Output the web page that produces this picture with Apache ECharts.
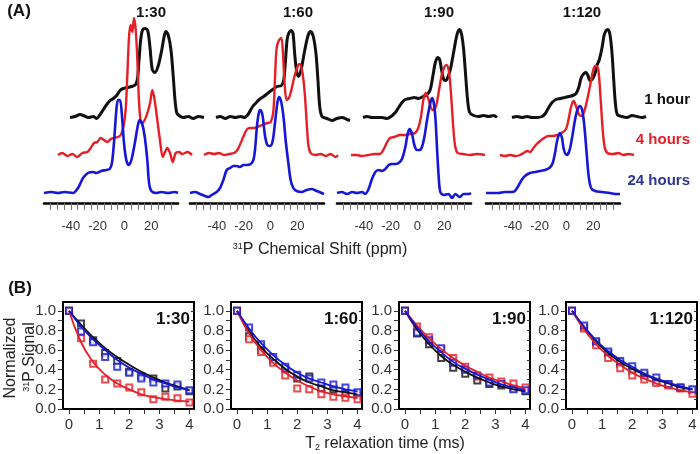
<!DOCTYPE html>
<html>
<head>
<meta charset="utf-8">
<script src="https://cdn.jsdelivr.net/npm/echarts@6.0.0/dist/echarts.min.js"></script>
<style>html,body{margin:0;padding:0;background:#fff}#c{width:700px;height:454px}</style>
</head>
<body>
<div id="c"></div>
<script>
// ---------- Panel A: 31P spectra (ppm, intensity a.u.) ----------
const ratios = ['1:30', '1:60', '1:90', '1:120'];
const timeLabels = ['1 hour', '4 hours', '24 hours'];
const ppmLabelValues = [-40, -20, 0, 20];

const spec130_1h = [[-60,0],[-56.3,1],[-52.5,3],[-50,2],[-46.3,0],[-42.6,1],[-40.1,-1],[-37.6,3],[-35.1,8],[-32.6,13],[-30.1,17],[-27.7,19],[-25.2,22],[-22.7,27],[-20.2,29],[-17,30],[-14,31],[-11,33],[-9.5,40],[-8.5,57],[-7.3,77],[-6,87],[-4,89],[-2,87],[-0.3,70],[1.4,48],[3.4,45],[5.9,52],[8.4,67],[10.4,82],[11.6,86],[13.4,82],[15.4,67],[17.1,40],[18.4,17],[19.6,5],[21.3,2],[24.6,0],[28.3,1],[32,-1],[35.8,1],[40,0]];
const spec130_4h = [[-60,0],[-56.8,2],[-53,-1],[-49.3,1],[-45.6,-2],[-41.8,2],[-38.1,3],[-35.6,7],[-33.1,12],[-30.6,13],[-28.2,17],[-25.7,15],[-23.2,13],[-20.7,16],[-18.2,17],[-15.2,18],[-13.2,20],[-11.2,28],[-9.5,45],[-8.3,78],[-7,118],[-5.8,130],[-4.5,123],[-3.3,137],[-2,125],[-0.8,95],[0.4,55],[1.7,33],[2.9,32],[4.7,35],[6.7,42],[8.7,52],[10.4,65],[12.1,55],[14.1,35],[16.1,15],[18.1,-2],[19.6,2],[21.6,7],[23.6,2],[25.6,-7],[27.8,2],[30.3,3],[32.8,1],[36.5,3],[40,0]];
const spec130_24h = [[-60,0],[-54.5,1],[-49.6,0],[-44.6,1],[-38.4,0],[-34.6,5],[-30.9,15],[-27.2,20],[-23.4,21],[-20.9,20],[-17.2,22],[-13.5,23],[-11,24],[-9.3,30],[-7.8,50],[-6,83],[-4.8,93],[-3.3,93],[-1.8,77],[-0.3,50],[1.4,33],[3.2,28],[5.2,33],[7.8,50],[10.1,68],[11.4,73],[13.1,70],[15.1,57],[17.1,33],[18.4,10],[20.1,2],[23.8,0],[27.6,1],[32.5,0],[37.5,1],[40,0]];

const spec160_1h = [[-60,0],[-56.8,1],[-53,-1],[-49.3,1],[-45.6,0],[-41.8,1],[-38.6,0],[-35.6,4],[-33.1,10],[-30.6,14],[-27.7,18],[-24.4,21],[-20.7,25],[-17.7,28],[-14.5,31],[-11.2,32],[-9.5,37],[-8.3,54],[-7,77],[-5.8,84],[-3.8,87],[-2.5,84],[-1.3,64],[0.2,46],[1.7,41],[3.7,49],[6.2,67],[8.7,82],[10.6,86],[12.6,81],[14.6,64],[16.1,37],[17.4,11],[19.1,1],[22.8,-1],[26.6,-3],[30.3,-1],[34,0],[37.8,-2],[40,-3]];
const spec160_4h = [[-60,0],[-56.3,2],[-52.5,1],[-48.8,2],[-45.1,0],[-41.3,1],[-37.6,2],[-35.1,5],[-32.6,12],[-30.1,20],[-27.7,26],[-25.2,27],[-22.7,27],[-20.2,28],[-16.5,30],[-12.7,32],[-10.2,33],[-8.3,43],[-7,77],[-5.8,107],[-4,115],[-2.3,117],[-1,100],[0.2,70],[1.7,55],[3.4,57],[5.2,65],[7.2,77],[9.7,88],[11.4,91],[13.4,83],[15.1,63],[16.6,33],[17.9,10],[19.6,2],[23.3,0],[27.1,1],[30.8,-1],[34.5,1],[38.3,-2],[40,0]];
const spec160_24h = [[-60,0],[-56.3,1],[-52.5,-1],[-48.8,-3],[-46.3,-4],[-43.8,-2],[-40.1,1],[-37.6,5],[-35.1,13],[-32.6,23],[-30.1,25],[-27.7,27],[-25.2,27],[-22.7,26],[-20.2,28],[-17.7,28],[-14.7,29],[-12.7,33],[-11.5,43],[-9.8,70],[-8.3,82],[-7.3,83],[-5.8,77],[-4,57],[-2.3,48],[-0.3,47],[1.7,52],[3.4,70],[5.2,90],[6.4,96],[7.9,92],[9.7,77],[11.6,50],[13.4,30],[15.1,13],[17.1,5],[19.6,2],[23.3,1],[27.1,3],[30.8,4],[34.5,2],[38.3,0],[40,-1]];

const spec190_1h = [[-60,0],[-57,1],[-53.3,0],[-49.6,0],[-45.8,0],[-42.1,-1],[-39.1,1],[-35.9,5],[-33.4,10],[-30.9,15],[-28.4,18],[-25.2,19],[-21.7,20],[-18.5,19],[-15.2,21],[-12.2,23],[-9.8,28],[-7.8,42],[-6,55],[-4.3,60],[-2.8,58],[-1.3,47],[0.2,38],[1.7,37],[3.2,40],[5.2,48],[7.2,62],[9.2,77],[10.6,85],[12.1,88],[13.6,83],[15.1,68],[16.6,42],[18.1,17],[19.6,5],[22.6,2],[26.3,1],[30,2],[33.8,1],[37.5,2],[40,0]];
const spec190_4h = [[-60,0],[-55.8,0],[-52,-1],[-47.1,0],[-42.1,1],[-38.4,1],[-35.9,5],[-33.4,12],[-30.9,17],[-27.7,18],[-23.4,20],[-19.7,20],[-16,21],[-12.2,22],[-9.8,27],[-7.8,38],[-6,55],[-4.3,62],[-2.2,56],[-0.3,47],[1.7,45],[3.7,50],[5.7,65],[7.7,80],[9.7,88],[11.4,90],[13.1,83],[14.6,62],[16.1,32],[17.6,10],[19.6,2],[23.8,1],[28.8,0],[33.8,1],[40,0]];
const spec190_24h = [[-60,0],[-56.3,1],[-52.5,-1],[-48.8,1],[-45.1,0],[-41.3,1],[-38.9,-1],[-36.4,4],[-33.9,14],[-31.4,21],[-28.9,23],[-26.4,22],[-23.9,24],[-21.4,28],[-19,29],[-16.5,29],[-14,30],[-11.5,34],[-9,46],[-7.3,59],[-5.8,64],[-4,59],[-2.3,48],[-0.3,43],[1.7,43],[3.4,46],[5.2,56],[7.2,73],[9.3,88],[10.9,95],[12.1,91],[13.4,76],[14.6,46],[15.9,16],[17.1,1],[19.6,-2],[23.3,-1],[25.8,-5],[28.3,-1],[31.5,-4],[34.5,-1],[38.3,-1],[40,0]];

const spec1120_1h = [[-60,0],[-56.3,1],[-52.5,0],[-48.8,1],[-45.1,0],[-41.3,0],[-37.6,1],[-35.1,4],[-32.6,10],[-30.1,15],[-27.2,18],[-23.9,19],[-20.7,20],[-17.7,21],[-14.7,22],[-12.2,24],[-10.2,30],[-8.3,40],[-6.3,44],[-4.8,45],[-3.3,42],[-1.8,37],[-0.3,38],[1.7,43],[3.4,52],[5.2,58],[7.2,70],[8.7,82],[10.2,87],[11.6,88],[13.1,83],[14.6,65],[15.9,38],[17.1,15],[18.6,3],[22.1,1],[25.8,0],[29.6,2],[33.3,1],[37,0],[40,1]];
const spec1120_4h = [[-60,0],[-56.3,-1],[-52.5,0],[-48.8,-1],[-45.1,0],[-41.3,3],[-39.6,4],[-37.6,3],[-35.1,7],[-32.6,11],[-30.1,14],[-27.2,17],[-23.9,19],[-20.7,19],[-17.2,20],[-14,22],[-10.7,26],[-8.8,36],[-6.8,49],[-5,54],[-3.3,49],[-1.3,41],[0.7,39],[2.7,43],[4.7,53],[7.2,69],[9.2,83],[10.9,89],[12.1,89],[13.6,83],[15.1,56],[16.6,26],[18.1,8],[20.1,2],[24.6,1],[28.3,2],[32,0],[35.8,1],[40,0]];
const spec1120_24h = [[-60,0],[-55.8,0],[-50.8,0],[-45.8,1],[-40.8,1],[-38.4,2],[-35.9,7],[-33.4,13],[-30.9,17],[-27.2,20],[-23.4,21],[-19.7,22],[-16,23],[-12.7,25],[-10.2,30],[-8.5,40],[-6.8,53],[-4.8,60],[-3.3,55],[-1.8,43],[0.2,38],[2.2,42],[4.2,55],[6.4,73],[8.2,83],[10.1,87],[11.8,83],[13.4,67],[15.1,40],[16.6,17],[18.4,5],[21.4,2],[26.3,1],[32.5,0],[37.5,-1],[40,-1]];

// ---------- Panel B: T2 relaxation (normalized signal) ----------
const t2Times = [0, 0.4, 0.8, 1.2, 1.6, 2.0, 2.4, 2.8, 3.2, 3.6, 4.0];
const t2Ticks = [0, 0.5, 1, 1.5, 2, 2.5, 3, 3.5, 4];
const t2Labels = [0, 1, 2, 3, 4];
const sigTicks = [0, 0.1, 0.2, 0.3, 0.4, 0.5, 0.6, 0.7, 0.8, 0.9, 1.0];
const sigLabels = [0, 0.2, 0.4, 0.6, 0.8, 1.0];

const b130_1h = [1.0, 0.87, 0.70, 0.57, 0.49, 0.38, 0.33, 0.31, 0.21, 0.23, 0.18];
const b130_4h = [1.0, 0.72, 0.46, 0.30, 0.26, 0.22, 0.17, 0.10, 0.125, 0.11, 0.065];
const b130_24h = [1.0, 0.79, 0.68, 0.53, 0.43, 0.37, 0.31, 0.27, 0.26, 0.25, 0.19];
const f130_1h = [1.0, 0.86, 0.73, 0.62, 0.53, 0.45, 0.38, 0.32, 0.27, 0.23, 0.19];
const f130_4h = [1.0, 0.68, 0.48, 0.35, 0.26, 0.20, 0.15, 0.12, 0.10, 0.085, 0.075];
const f130_24h = [1.0, 0.84, 0.71, 0.60, 0.50, 0.42, 0.36, 0.30, 0.26, 0.22, 0.19];

const b160_1h = [1.0, 0.74, 0.60, 0.50, 0.41, 0.31, 0.33, 0.21, 0.20, 0.15, 0.14];
const b160_4h = [1.0, 0.71, 0.58, 0.47, 0.34, 0.21, 0.20, 0.15, 0.125, 0.115, 0.10];
const b160_24h = [1.0, 0.83, 0.66, 0.53, 0.43, 0.35, 0.31, 0.27, 0.25, 0.22, 0.17];
const f160_1h = [1.0, 0.79, 0.63, 0.51, 0.41, 0.33, 0.27, 0.23, 0.19, 0.17, 0.15];
const f160_4h = [1.0, 0.77, 0.60, 0.47, 0.37, 0.29, 0.23, 0.18, 0.15, 0.13, 0.11];
const f160_24h = [1.0, 0.82, 0.67, 0.55, 0.45, 0.37, 0.31, 0.27, 0.23, 0.20, 0.18];

const b190_1h = [1.0, 0.77, 0.66, 0.52, 0.42, 0.36, 0.29, 0.255, 0.24, 0.21, 0.18];
const b190_4h = [1.0, 0.84, 0.73, 0.61, 0.52, 0.43, 0.33, 0.32, 0.28, 0.26, 0.22];
const b190_24h = [1.0, 0.78, 0.70, 0.62, 0.47, 0.40, 0.34, 0.27, 0.255, 0.20, 0.19];
const f190_1h = [1.0, 0.81, 0.66, 0.54, 0.45, 0.38, 0.32, 0.27, 0.23, 0.20, 0.18];
const f190_4h = [1.0, 0.85, 0.72, 0.61, 0.52, 0.44, 0.38, 0.32, 0.28, 0.24, 0.21];
const f190_24h = [1.0, 0.83, 0.69, 0.58, 0.48, 0.41, 0.35, 0.30, 0.25, 0.22, 0.19];

const b1120_1h = [1.0, 0.83, 0.68, 0.57, 0.46, 0.39, 0.34, 0.28, 0.25, 0.22, 0.19];
const b1120_4h = [1.0, 0.82, 0.65, 0.52, 0.415, 0.34, 0.30, 0.265, 0.24, 0.21, 0.155];
const b1120_24h = [1.0, 0.85, 0.69, 0.585, 0.49, 0.435, 0.37, 0.32, 0.255, 0.22, 0.20];
const f1120_1h = [1.0, 0.83, 0.69, 0.57, 0.48, 0.41, 0.35, 0.30, 0.26, 0.22, 0.20];
const f1120_4h = [1.0, 0.81, 0.66, 0.54, 0.45, 0.37, 0.31, 0.26, 0.22, 0.19, 0.17];
const f1120_24h = [1.0, 0.84, 0.70, 0.59, 0.50, 0.43, 0.36, 0.31, 0.27, 0.23, 0.20];

// ---------- build ----------
const FONT = '"Liberation Sans", Arial, sans-serif';
const COL = { black: '#111111', red: '#e61e26', blue: '#1616d8' };
const spectra = [
  [spec130_1h, spec130_4h, spec130_24h],
  [spec160_1h, spec160_4h, spec160_24h],
  [spec190_1h, spec190_4h, spec190_24h],
  [spec1120_1h, spec1120_4h, spec1120_24h]
];
const decayPts = [
  [b130_1h, b130_4h, b130_24h], [b160_1h, b160_4h, b160_24h],
  [b190_1h, b190_4h, b190_24h], [b1120_1h, b1120_4h, b1120_24h]
];
const decayFits = [
  [f130_1h, f130_4h, f130_24h], [f160_1h, f160_4h, f160_24h],
  [f190_1h, f190_4h, f190_24h], [f1120_1h, f1120_4h, f1120_24h]
];

const grid = [], xAxis = [], yAxis = [], series = [];
const aLeft = [44, 190, 337, 486];
const aWidth = 134;
const traceLayout = [
  { dx: 26, base: 117.5, ymax: 100, color: COL.black, w: 3.0 },
  { dx: 14, base: 155, ymax: 140, color: COL.red, w: 2.4 },
  { dx: 0, base: 193, ymax: 100, color: COL.blue, w: 2.6 }
];

for (let p = 0; p < 4; p++) {
  for (let k = 0; k < 3; k++) {
    const L = traceLayout[k];
    const gi = grid.length;
    grid.push({ left: aLeft[p] + L.dx, top: L.base - L.ymax, width: aWidth, height: L.ymax + 10 });
    const isAxis = (k === 2);
    const xi = xAxis.length;
    xAxis.push({
      gridIndex: gi, type: 'value', min: -60, max: 40, interval: 5, show: isAxis,
      position: 'bottom',
      splitLine: { show: false },
      axisLine: { show: true, onZero: false, lineStyle: { color: '#000', width: 2.6 } },
      axisTick: { show: true, length: 7, lineStyle: { color: '#777', width: 1 } },
      axisLabel: {
        show: true, margin: 17, fontSize: 13, color: '#333', fontFamily: FONT,
        showMinLabel: false, showMaxLabel: false,
        formatter: v => (ppmLabelValues.indexOf(Math.round(v)) >= 0 && Math.abs(v - Math.round(v)) < 1e-6) ? String(Math.round(v)) : ''
      }
    });
    const yi = yAxis.length;
    yAxis.push({ gridIndex: gi, type: 'value', min: -10, max: L.ymax, show: false, splitLine: { show: false } });
    series.push({
      type: 'line', xAxisIndex: xi, yAxisIndex: yi, data: spectra[p][k],
      symbol: 'none', smooth: 0.3, silent: true, clip: true,
      lineStyle: { color: L.color, width: L.w }
    });
  }
}

const bLeft = [63, 231, 399, 566];
const bTop = 302, bW = 131, bH = 107;
const bCols = [COL.black, COL.red, COL.blue];
for (let p = 0; p < 4; p++) {
  const gi = grid.length;
  grid.push({ left: bLeft[p], top: bTop, width: bW, height: bH, show: true, borderColor: '#000', borderWidth: 2, backgroundColor: 'transparent' });
  const xi = xAxis.length;
  xAxis.push({
    gridIndex: gi, type: 'value', min: -0.2, max: 4.15, position: 'bottom',
    splitLine: { show: false },
    axisLine: { show: false, onZero: false },
    axisTick: { show: true, customValues: t2Ticks, length: 5, lineStyle: { color: '#333' } },
    axisLabel: { customValues: t2Labels, margin: 8, fontSize: 15, color: '#333', fontFamily: FONT }
  });
  const yi = yAxis.length;
  yAxis.push({
    gridIndex: gi, type: 'value', min: 0, max: 1.09, position: 'left',
    splitLine: { show: false },
    axisLine: { show: false, onZero: false },
    axisTick: { show: true, customValues: sigTicks, length: 5, lineStyle: { color: '#333' } },
    axisLabel: { customValues: sigLabels, margin: 7, fontSize: 15, color: '#333', fontFamily: FONT,
      formatter: v => v.toFixed(1) }
  });
  yAxis.push({
    gridIndex: gi, type: 'value', min: 0, max: 1.09, position: 'right',
    splitLine: { show: false },
    axisLine: { show: false, onZero: false },
    axisTick: { show: true, inside: true, customValues: sigTicks, length: 3, lineStyle: { color: '#333' } },
    axisLabel: { show: false }
  });
  for (let k = 0; k < 3; k++) {
    series.push({
      type: 'line', xAxisIndex: xi, yAxisIndex: yi, symbol: 'none', smooth: true, silent: true,
      data: t2Times.map((t, i) => [t, decayFits[p][k][i]]),
      lineStyle: { color: bCols[k], width: 1.8 }
    });
  }
  for (let k = 0; k < 3; k++) {
    series.push({
      type: 'scatter', xAxisIndex: xi, yAxisIndex: yi, symbol: 'emptyRect', symbolSize: 6, silent: true,
      data: t2Times.map((t, i) => [t, decayPts[p][k][i]]),
      itemStyle: { color: bCols[k], borderWidth: 1.6 }
    });
  }
}

const txt = (x, y, text, o) => ({
  type: 'text', x, y, silent: true,
  style: Object.assign({ text, fontFamily: FONT, fontSize: 15, fill: '#111', align: 'center', verticalAlign: 'middle' }, o || {})
});
const aTitleX = [151, 298, 439, 582];
const bTitleRight = bLeft.map(l => l + bW - 4);
const timeCols = ['#111111', '#e61e26', '#2d3494'];
const timeY = [100, 140, 181];
const graphics = [
  txt(19, 11, '(A)', { fontSize: 17, fontWeight: 'bold' }),
  txt(20, 288, '(B)', { fontSize: 17, fontWeight: 'bold' })
];
ratios.forEach((r, i) => {
  graphics.push(txt(aTitleX[i], 13, r, { fontSize: 15, fontWeight: 'bold' }));
  graphics.push(txt(bTitleRight[i], 319, r, { fontSize: 17, fontWeight: 'bold', align: 'right' }));
});
timeLabels.forEach((t, i) => {
  graphics.push(txt(690, timeY[i], t, { fontSize: 15, fontWeight: 'bold', align: 'right', fill: timeCols[i] }));
});
graphics.push({
  type: 'text', x: 320, y: 250, silent: true,
  style: { text: '{s|31}P Chemical Shift (ppm)', fontFamily: FONT, fontSize: 16, fill: '#222', align: 'center', verticalAlign: 'middle',
    rich: { s: { fontSize: 9, fontFamily: FONT, fill: '#222', verticalAlign: 'top' } } }
});
graphics.push({
  type: 'text', x: 385, y: 444, silent: true,
  style: { text: 'T{s|2} relaxation time (ms)', fontFamily: FONT, fontSize: 16, fill: '#222', align: 'center', verticalAlign: 'middle',
    rich: { s: { fontSize: 9, fontFamily: FONT, fill: '#222', verticalAlign: 'bottom' } } }
});
graphics.push({
  type: 'text', x: 11, y: 358, rotation: Math.PI / 2, silent: true,
  style: { text: 'Normalized', fontFamily: FONT, fontSize: 16, fill: '#222', align: 'center', verticalAlign: 'middle' }
});
graphics.push({
  type: 'text', x: 30, y: 357, rotation: Math.PI / 2, silent: true,
  style: { text: '{s|31}P Signal', fontFamily: FONT, fontSize: 16, fill: '#222', align: 'center', verticalAlign: 'middle',
    rich: { s: { fontSize: 9, fontFamily: FONT, fill: '#222', verticalAlign: 'top' } } }
});

const chart = echarts.init(document.getElementById('c'), null, { renderer: 'canvas' });
chart.setOption({
  animation: false,
  backgroundColor: '#fff',
  textStyle: { fontFamily: FONT },
  grid, xAxis, yAxis, series,
  graphic: graphics
});
</script>
</body>
</html>
